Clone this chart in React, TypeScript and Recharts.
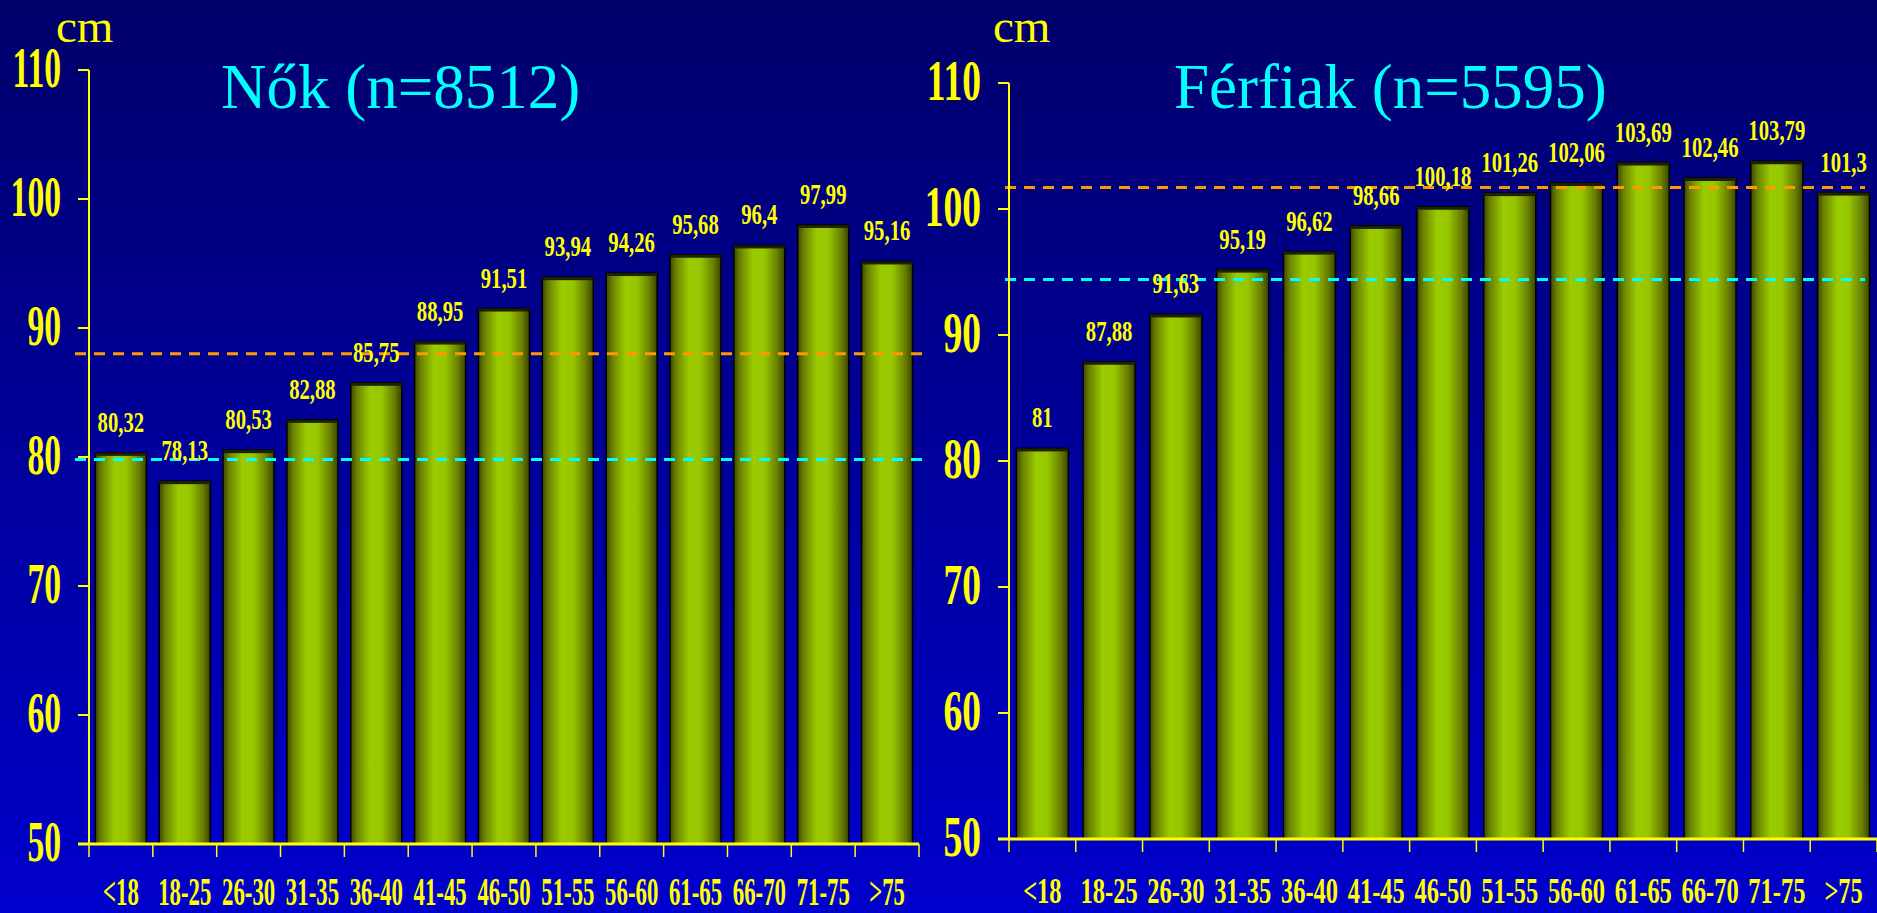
import React from 'react';
import { BarChart, Bar, XAxis, YAxis, ReferenceLine, LabelList } from 'recharts';

const ageGroups = ['<18', '18-25', '26-30', '31-35', '36-40', '41-45', '46-50', '51-55', '56-60', '61-65', '66-70', '71-75', '>75'];
const womenValues = [80.32, 78.13, 80.53, 82.88, 85.75, 88.95, 91.51, 93.94, 94.26, 95.68, 96.4, 97.99, 95.16];
const menValues = [81, 87.88, 91.63, 95.19, 96.62, 98.66, 100.18, 101.26, 102.06, 103.69, 102.46, 103.79, 101.3];
const yTicks = [50, 60, 70, 80, 90, 100, 110];
const womenOrangeLine = 88;
const womenCyanLine = 79.8;
const menOrangeLine = 101.7;
const menCyanLine = 94.4;

const SERIF = "'Liberation Serif', 'Times New Roman', serif";
const YELLOW = '#ffff00';

// squeezed bold text, the slide uses a condensed Times
const Cond = ({ x, y, sx, size, anchor = 'middle', children }: any) => (
  <text
    transform={`translate(${x},${y}) scale(${sx},1)`}
    textAnchor={anchor}
    fontFamily={SERIF}
    fontWeight="bold"
    fontSize={size}
    fill={YELLOW}
  >
    {children}
  </text>
);

const fmt = (v: number) => String(v).replace('.', ',');

type PanelProps = {
  id: string;
  values: number[];
  orange: number;
  cyan: number;
  width: number;
  top: number;
  right: number;
  yAxisWidth: number;
  xAxisHeight: number;
  xFont: number;
  xScale: number;
  xDy: number;
  yScale: number;
  gap: string;
  lineStart: number;
  lineEnd: number;
};

const Panel = (p: PanelProps) => {
  const data = ageGroups.map((g, i) => ({ name: g, value: p.values[i] }));
  const plotWidth = p.width - p.right - p.yAxisWidth;
  const half = plotWidth / ageGroups.length / 2;

  const XTick = (t: any) => {
    const { x, y, index, payload } = t;
    const left = x - half;
    return (
      <g>
        {index === 0 && (
          <line x1={left - 11} x2={left + plotWidth} y1={y} y2={y} stroke={YELLOW} strokeWidth={3} />
        )}
        <line x1={left} x2={left} y1={y} y2={y + 13} stroke={YELLOW} strokeWidth={1.5} />
        {index === ageGroups.length - 1 && (
          <line x1={x + half} x2={x + half} y1={y} y2={y + 13} stroke={YELLOW} strokeWidth={1.5} />
        )}
        <Cond x={x} y={y + p.xDy} sx={p.xScale} size={p.xFont}>{payload.value}</Cond>
      </g>
    );
  };

  const YTick = (t: any) => (
    <Cond x={t.x} y={t.y + 17} sx={p.yScale} size={56} anchor="end">{t.payload.value}</Cond>
  );

  const CylBar = (b: any) => {
    const { x, y, width, height } = b;
    return (
      <g>
        <rect x={x} y={y} width={width} height={height} fill={`url(#grad-${p.id})`} stroke="#000" strokeWidth={1.5} />
        <rect x={x} y={y} width={width} height={3} fill="#1c2200" />
      </g>
    );
  };

  const dashed = (color: string) => (s: any) => (
    <line
      x1={s.x1 + p.lineStart}
      x2={s.x2 + p.lineEnd}
      y1={s.y1}
      y2={s.y2}
      stroke={color}
      strokeWidth={3}
      strokeDasharray="11 8"
    />
  );

  return (
    <BarChart
      width={p.width}
      height={913}
      data={data}
      margin={{ top: p.top, right: p.right, bottom: 0, left: 0 }}
      barCategoryGap={p.gap}
    >
      <defs>
        <linearGradient id={`grad-${p.id}`} x1="0" y1="0" x2="1" y2="0">
          <stop offset="0%" stopColor="#3d4700" />
          <stop offset="12%" stopColor="#6b8200" />
          <stop offset="38%" stopColor="#9acc00" />
          <stop offset="60%" stopColor="#97c600" />
          <stop offset="85%" stopColor="#6a7f00" />
          <stop offset="100%" stopColor="#3a4400" />
        </linearGradient>
      </defs>
      <XAxis
        dataKey="name"
        height={p.xAxisHeight}
        axisLine={false}
        tickLine={false}
        tickSize={0}
        tickMargin={0}
        interval={0}
        tick={XTick}
      />
      <YAxis
        width={p.yAxisWidth}
        domain={[50, 110]}
        ticks={yTicks}
        allowDataOverflow
        axisLine={{ stroke: YELLOW, strokeWidth: 2 }}
        tickLine={{ stroke: YELLOW, strokeWidth: 2 }}
        tickSize={11}
        tickMargin={17}
        tick={YTick}
      />
      <Bar dataKey="value" shape={CylBar} isAnimationActive={false}>
        <LabelList
          dataKey="value"
          content={(l: any) => (
            <Cond x={l.x + l.width / 2} y={l.y - 21} sx={0.69} size={30}>{fmt(l.value)}</Cond>
          )}
        />
      </Bar>
      <ReferenceLine y={p.orange} ifOverflow="visible" shape={dashed('#ff9900')} />
      <ReferenceLine y={p.cyan} ifOverflow="visible" shape={dashed('#00ffff')} />
    </BarChart>
  );
};

export default function App() {
  return (
    <div
      style={{
        position: 'absolute',
        left: 0,
        top: 0,
        width: 1877,
        height: 913,
        overflow: 'hidden',
        background: 'linear-gradient(to bottom, #00006a 0%, #0000a0 55%, #0000cc 100%)',
      }}
    >
      <div style={{ position: 'absolute', left: 0, top: 0 }}>
        <Panel
          id="nok"
          values={womenValues}
          orange={womenOrangeLine}
          cyan={womenCyanLine}
          width={940}
          top={70}
          right={21}
          yAxisWidth={89}
          xAxisHeight={69}
          xFont={40}
          xScale={0.57}
          xDy={61}
          yScale={0.6}
          gap="10%"
          lineStart={-14}
          lineEnd={9}
        />
      </div>
      <div style={{ position: 'absolute', left: 900, top: 0 }}>
        <Panel
          id="ferfiak"
          values={menValues}
          orange={menOrangeLine}
          cyan={menCyanLine}
          width={977}
          top={83}
          right={0}
          yAxisWidth={109}
          xAxisHeight={74}
          xFont={35}
          xScale={0.7}
          xDy={64}
          yScale={0.67}
          gap="11%"
          lineStart={-4}
          lineEnd={-12}
        />
      </div>
      <svg width={1877} height={913} style={{ position: 'absolute', left: 0, top: 0, pointerEvents: 'none' }}>
        <text x={56} y={42} fontFamily={SERIF} fontSize={47} fill={YELLOW}>cm</text>
        <text x={993} y={42} fontFamily={SERIF} fontSize={47} fill={YELLOW}>cm</text>
        <text x={221} y={108} fontFamily={SERIF} fontSize={63} fill="#00ffff">Nők (n=8512)</text>
        <text x={1174} y={108} fontFamily={SERIF} fontSize={63} fill="#00ffff">Férfiak (n=5595)</text>
      </svg>
    </div>
  );
}
